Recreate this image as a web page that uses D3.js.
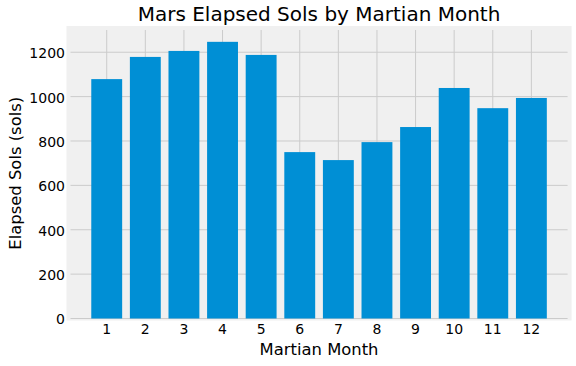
<!DOCTYPE html>
<html lang="en">
<head>
    <meta charset="UTF-8">
    <title>Mars Elapsed Sols by Martian Month</title>
    <script src="https://d3js.org/d3.v7.min.js"></script>
    <style>
        body { margin: 0; background: #ffffff; }
        text { font-family: "DejaVu Sans", sans-serif; fill: #000000; }
        .grid line { stroke: #cbcbcb; stroke-width: 1; }
    </style>
</head>
<body>
    <svg id="chart" width="576" height="366"></svg>
    <script>
        // Data
        const months = [1, 2, 3, 4, 5, 6, 7, 8, 9, 10, 11, 12];
        const sols = [1079, 1179, 1206, 1247, 1188, 750, 714, 795, 863, 1039, 948, 994];
        const yTicks = [0, 200, 400, 600, 800, 1000, 1200];

        const width = 576, height = 366;
        const plot = {left: 68.5, right: 569.6, top: 28, bottom: 318.5};

        const svg = d3.select("#chart");

        const x = d3.scaleLinear()
            .domain([0.01, 12.99])
            .range([plot.left, plot.right]);

        const y = d3.scaleLinear()
            .domain([0, d3.max(sols) * 1.05])
            .range([plot.bottom, plot.top]);

        const barW = (x(1.8) - x(1));

        // axes background (with the thick light spine around it)
        svg.append("rect")
            .attr("x", plot.left - 2)
            .attr("y", plot.top - 2)
            .attr("width", plot.right - plot.left + 4)
            .attr("height", plot.bottom - plot.top + 4)
            .attr("fill", "#f0f0f0");

        // grid
        const grid = svg.append("g").attr("class", "grid");
        grid.selectAll(".hgrid")
            .data(yTicks)
            .enter().append("line")
            .attr("x1", plot.left + 2)
            .attr("x2", plot.right - 2)
            .attr("y1", d => y(d))
            .attr("y2", d => y(d));
        grid.selectAll(".vgrid")
            .data(months)
            .enter().append("line")
            .attr("x1", d => x(d))
            .attr("x2", d => x(d))
            .attr("y1", plot.top + 2)
            .attr("y2", plot.bottom - 2);

        // bars
        svg.append("g")
            .selectAll("rect")
            .data(months)
            .enter().append("rect")
            .attr("x", (d, i) => x(d) - barW / 2)
            .attr("width", barW)
            .attr("y", (d, i) => y(sols[i]))
            .attr("height", (d, i) => y(0) - y(sols[i]))
            .attr("fill", "#008fd5");

        // tick labels
        svg.append("g")
            .selectAll("text")
            .data(yTicks)
            .enter().append("text")
            .attr("x", 65)
            .attr("y", d => y(d))
            .attr("dy", "0.42em")
            .attr("text-anchor", "end")
            .style("font-size", "14px")
            .text(d => d);

        svg.append("g")
            .selectAll("text")
            .data(months)
            .enter().append("text")
            .attr("x", d => x(d))
            .attr("y", 334)
            .attr("text-anchor", "middle")
            .style("font-size", "14px")
            .text(d => d);

        // title and axis labels
        const cx = (plot.left + plot.right) / 2;
        svg.append("text")
            .attr("x", cx)
            .attr("y", 20.7)
            .attr("text-anchor", "middle")
            .style("font-size", "20px")
            .text("Mars Elapsed Sols by Martian Month");

        svg.append("text")
            .attr("x", cx)
            .attr("y", 355)
            .attr("text-anchor", "middle")
            .style("font-size", "16.4px")
            .text("Martian Month");

        svg.append("text")
            .attr("transform", `translate(21,${(plot.top + plot.bottom) / 2}) rotate(-90)`)
            .attr("text-anchor", "middle")
            .style("font-size", "16.4px")
            .text("Elapsed Sols (sols)");
    </script>
</body>
</html>
